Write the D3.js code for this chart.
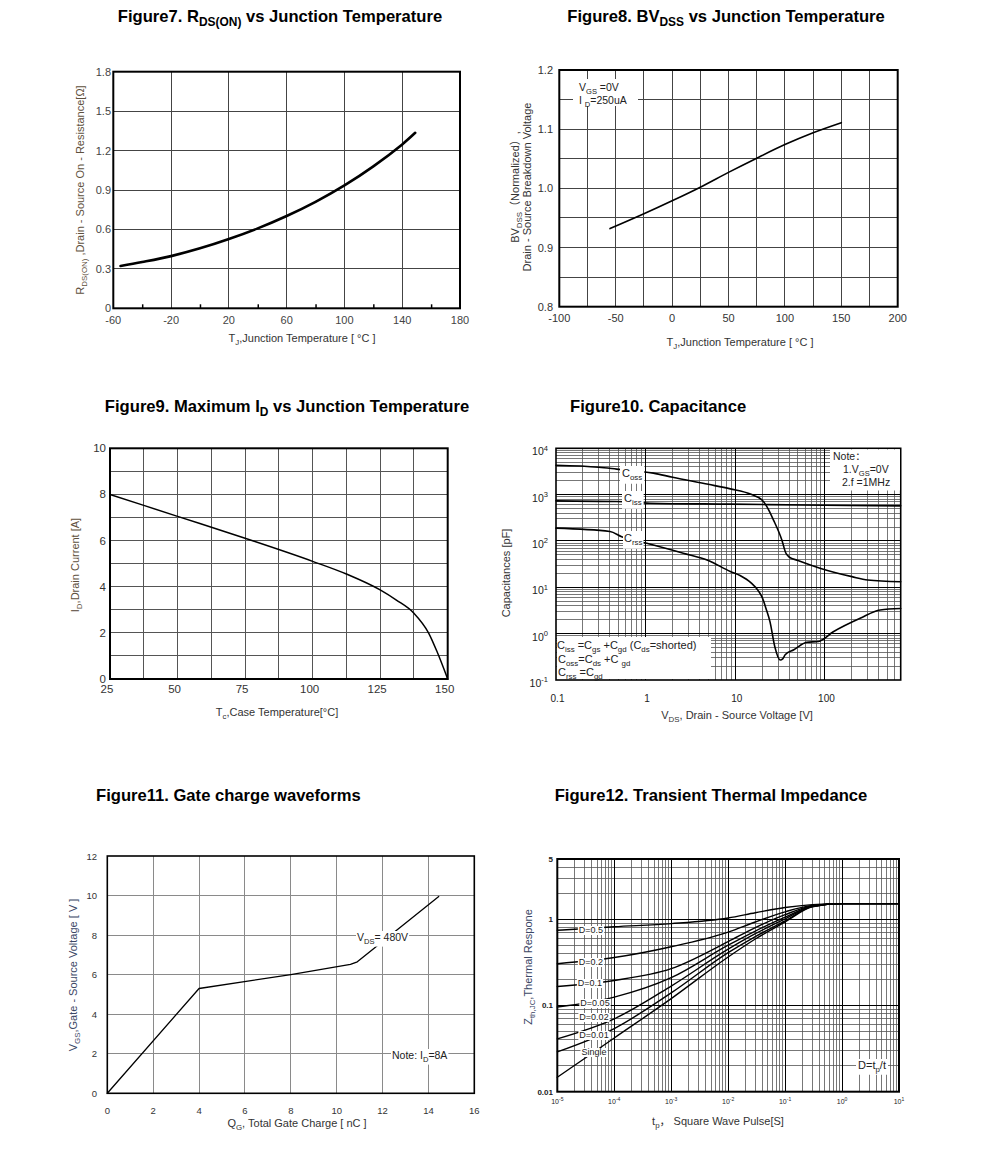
<!DOCTYPE html>
<html><head><meta charset="utf-8">
<script src="https://cdn.jsdelivr.net/npm/d3@7"></script>
<style>
body{margin:0;background:#fff}
svg{display:block}
text{font-family:"Liberation Sans",Arial,Helvetica,"Noto Sans CJK SC",sans-serif}
</style>
</head><body>
<svg id="c" width="991" height="1176"></svg>
<script>
// ---------------- DATA ----------------
// Figure 7
const fig7XTicks = [-60, -20, 20, 60, 100, 140, 180];
const fig7YTicks = [0, 0.3, 0.6, 0.9, 1.2, 1.5, 1.8];
const fig7YLabels = ['0', '0.3', '0.6', '0.9', '1.2', '1.5', '1.8'];
const fig7Temp = [-55, -40, -20, 0, 20, 40, 60, 80, 100, 120, 140, 149];
const fig7Rds = [0.322, 0.352, 0.397, 0.456, 0.527, 0.608, 0.702, 0.810, 0.935, 1.08, 1.247, 1.335];
// Figure 8
const fig8XTicks = [-100, -50, 0, 50, 100, 150, 200];
const fig8YTicks = [0.8, 0.9, 1.0, 1.1, 1.2];
const fig8Temp = [-55, -25, 0, 25, 50, 75, 100, 125, 150];
const fig8Bv = [0.932, 0.957, 0.979, 1.002, 1.027, 1.051, 1.074, 1.094, 1.111];
// Figure 9
const fig9XTicks = [25, 50, 75, 100, 125, 150];
const fig9YTicks = [0, 2, 4, 6, 8, 10];
const fig9Temp = [25, 50, 75, 100, 112.5, 125, 131, 137.5, 143, 146, 150];
const fig9Id = [8, 7.05, 6.1, 5.1, 4.55, 3.86, 3.42, 2.85, 1.98, 1.2, 0];
// Figure 10
const fig10XTicks = [0.1, 1, 10, 100];
const fig10XLabels = ['0.1', '1', '10', '100'];
const fig10YExp = [-1, 0, 1, 2, 3, 4];
const fig10CossV = [0.1, 0.3, 0.475, 1.22, 2, 5, 8.8, 15, 19.8, 22.5, 26.6, 33, 36.6, 40, 50, 88, 200, 300, 700];
const fig10CossC = [4300, 3900, 3556, 2911, 2370, 1670, 1333, 1015, 773, 553, 286, 106, 55, 45, 38, 25.9, 17, 14.4, 13.2];
const fig10CissV = [0.1, 0.475, 1.12, 8.8, 100, 700];
const fig10CissC = [735, 709, 654, 624, 590, 573];
const fig10CrssV = [0.1, 0.4, 0.54, 1.03, 2.63, 5, 8.8, 11.3, 15, 18, 20, 22, 24.4, 27.6, 31.6, 34, 36, 45, 62.8, 84.6, 124, 247, 413, 700];
const fig10CrssC = [189, 160, 124, 89.5, 54.6, 38, 22, 18, 12.5, 8.5, 6, 3.5, 1.8, 0.52, 0.27, 0.29, 0.35, 0.45, 0.65, 0.68, 1.1, 2.15, 3.25, 3.5];
// Figure 11
const fig11XTicks = [0, 2, 4, 6, 8, 10, 12, 14, 16];
const fig11YTicks = [0, 2, 4, 6, 8, 10, 12];
const fig11Qg = [0, 4, 8, 10.6, 10.9, 14.45];
const fig11Vgs = [0, 5.3, 6.0, 6.52, 6.65, 9.95];
// Figure 12
const fig12XExp = [-5, -4, -3, -2, -1, 0, 1];
const fig12YTicks = [0.01, 0.1, 1, 5];
const fig12YLabels = ['0.01', '0.1', '1', '5'];
const fig12Time = [1e-5, 1e-4, 1e-3, 1e-2, 3e-2, 0.1, 0.3, 1, 10];
const fig12D05 = [0.745, 0.82, 0.89, 1.035, 1.19, 1.37, 1.48, 1.52, 1.52];
const fig12D02 = [0.305, 0.36, 0.48, 0.71, 0.93, 1.22, 1.45, 1.52, 1.52];
const fig12D01 = [0.166, 0.195, 0.267, 0.55, 0.80, 1.13, 1.43, 1.52, 1.52];
const fig12D005 = [0.096, 0.125, 0.21, 0.50, 0.73, 1.06, 1.42, 1.52, 1.52];
const fig12D002 = [0.041, 0.070, 0.168, 0.45, 0.68, 1.01, 1.41, 1.52, 1.52];
const fig12D001 = [0.029, 0.054, 0.14, 0.41, 0.63, 0.96, 1.40, 1.52, 1.52];
const fig12Single = [0.0147, 0.042, 0.12, 0.365, 0.59, 0.93, 1.39, 1.52, 1.52];
const fig12Labels = ['D=0.5', 'D=0.2', 'D=0.1', 'D=0.05', 'D=0.02', 'D=0.01', 'Single'];

// ---------------- HELPERS ----------------
const svg = d3.select('#c');

function rich(t, parts, fs) {
  let cur = 0;
  parts.forEach(p => {
    const [s, k] = Array.isArray(p) ? p : [p, 'n'];
    const off = k === 'sub' ? fs * 0.25 : (k === 'sup' ? -fs * 0.45 : 0);
    t.append('tspan').attr('dy', (off - cur).toFixed(2))
      .attr('font-size', k === 'n' ? fs : (fs * 0.72).toFixed(2)).text(s);
    cur = off;
  });
  return t;
}
function addText(parent, x, y, parts, o = {}) {
  const fs = o.size || 11;
  const t = parent.append('text').attr('x', x).attr('y', y)
    .attr('text-anchor', o.anchor || 'start')
    .attr('font-size', fs).attr('fill', o.fill || '#000')
    .attr('font-weight', o.weight || 'normal');
  if (o.rotate) t.attr('transform', `rotate(-90 ${x} ${y})`);
  rich(t, typeof parts === 'string' ? [parts] : parts, fs);
  return t;
}
function bgText(parent, x, y, parts, o = {}) {
  const t = addText(parent, x, y, parts, o);
  const b = t.node().getBBox();
  const px = o.padX == null ? 1 : o.padX;
  const py = o.padY == null ? 0 : o.padY;
  parent.insert('rect', () => t.node())
    .attr('x', b.x - px).attr('y', b.y + 1 - py).attr('width', b.width + 2 * px).attr('height', b.height - 1 + 2 * py)
    .attr('fill', '#fff');
  return t;
}
function vgrid(g, x, y, vals, stroke, w) {
  g.append('g').selectAll('line').data(vals).join('line')
    .attr('x1', d => x(d)).attr('x2', d => x(d))
    .attr('y1', y.range()[0]).attr('y2', y.range()[1])
    .attr('stroke', stroke).attr('stroke-width', w).attr('shape-rendering', 'crispEdges');
}
function hgrid(g, x, y, vals, stroke, w) {
  g.append('g').selectAll('line').data(vals).join('line')
    .attr('y1', d => y(d)).attr('y2', d => y(d))
    .attr('x1', x.range()[0]).attr('x2', x.range()[1])
    .attr('stroke', stroke).attr('stroke-width', w).attr('shape-rendering', 'crispEdges');
}
function frame(g, x, y, w) {
  const [x0, x1] = x.range(), [y0, y1] = y.range();
  g.append('rect').attr('x', x0).attr('y', y1).attr('width', x1 - x0).attr('height', y0 - y1)
    .attr('fill', 'none').attr('stroke', '#000').attr('stroke-width', w);
}
function curve(g, x, y, xs, ys, w, c) {
  const pts = xs.map((v, i) => [v, ys[i]]);
  g.append('path').datum(pts)
    .attr('d', d3.line().x(d => x(d[0])).y(d => y(d[1])).curve(c || d3.curveMonotoneX))
    .attr('fill', 'none').attr('stroke', '#000').attr('stroke-width', w)
    .attr('stroke-linejoin', 'round').attr('stroke-linecap', 'round');
}
function title(x, y, parts, anchor) {
  addText(svg, x, y, parts, { size: 16.6, weight: 'bold', anchor: anchor || 'middle' });
}

// ---------------- FIGURE 7 ----------------
{
  const g = svg.append('g');
  const x = d3.scaleLinear([-60, 180], [113.3, 460]);
  const y = d3.scaleLinear([0, 1.8], [308.3, 71.7]);
  vgrid(g, x, y, fig7XTicks, '#444', 1);
  hgrid(g, x, y, fig7YTicks, '#444', 1);
  g.append('g').call(d3.axisTop(x).tickValues(d3.range(-40, 180, 40)).tickSize(4).tickFormat(''))
    .attr('transform', `translate(0,${y(0)})`).call(s => s.select('.domain').remove())
    .selectAll('line').attr('stroke', '#000').attr('stroke-width', 1.5);
  frame(g, x, y, 2);
  curve(g, x, y, fig7Temp, fig7Rds, 2.6, d3.curveCatmullRom);
  g.append('g').selectAll('text').data(fig7YTicks).join('text')
    .attr('x', 111).attr('y', d => y(d) + 4).attr('text-anchor', 'end')
    .attr('font-size', 11).attr('fill', '#444').text((d, i) => fig7YLabels[i]);
  g.append('g').selectAll('text').data(fig7XTicks).join('text')
    .attr('x', d => x(d)).attr('y', 324).attr('text-anchor', 'middle')
    .attr('font-size', 11).attr('fill', '#444').text(d => d);
  addText(g, 302, 342, ['T', ['J', 'sub'], ',Junction Temperature [ °C ]'], { size: 11, anchor: 'middle', fill: '#333' });
  addText(g, 84, 190, ['R', ['DS(ON)', 'sub'], ' ,Drain - Source On - Resistance[Ω]'], { size: 11, anchor: 'middle', fill: '#5e503c', rotate: true });
  title(280, 22, ['Figure7. R', ['DS(ON)', 'sub'], ' vs Junction Temperature']);
}

// ---------------- FIGURE 8 ----------------
{
  const g = svg.append('g');
  const x = d3.scaleLinear([-100, 200], [559.3, 897.7]);
  const y = d3.scaleLinear([0.8, 1.2], [306.7, 70]);
  vgrid(g, x, y, d3.range(-75, 200, 25), '#444', 1);
  hgrid(g, x, y, d3.range(0.85, 1.2, 0.05), '#444', 1);
  frame(g, x, y, 2);
  curve(g, x, y, fig8Temp, fig8Bv, 1.6, d3.curveCatmullRom);
  g.append('g').selectAll('text').data(fig8YTicks).join('text')
    .attr('x', 553).attr('y', d => y(d) + 4).attr('text-anchor', 'end')
    .attr('font-size', 11).attr('fill', '#333').text(d => d.toFixed(1));
  g.append('g').selectAll('text').data(fig8XTicks).join('text')
    .attr('x', d => x(d)).attr('y', 322).attr('text-anchor', 'middle')
    .attr('font-size', 11).attr('fill', '#333').text(d => d);
  addText(g, 740, 346, ['T', ['J', 'sub'], ',Junction Temperature [ °C ]'], { size: 11, anchor: 'middle', fill: '#333' });
  addText(g, 519, 187, ['BV', ['DSS', 'sub'], '（Normalized）,'], { size: 11, anchor: 'middle', fill: '#333', rotate: true });
  addText(g, 531, 187, 'Drain - Source Breakdown Voltage', { size: 11, anchor: 'middle', fill: '#333', rotate: true });
  g.append('rect').attr('x', 573).attr('y', 79).attr('width', 65).attr('height', 27).attr('fill', '#fff');
  addText(g, 579, 91, ['V', ['GS', 'sub'], ' =0V'], { size: 10.5, fill: '#222' });
  addText(g, 579, 104, ['I ', ['D', 'sub'], '=250uA'], { size: 10.5, fill: '#222' });
  title(726, 22, ['Figure8. BV', ['DSS', 'sub'], ' vs Junction Temperature']);
}

// ---------------- FIGURE 9 ----------------
{
  const g = svg.append('g');
  const x = d3.scaleLinear([25, 150], [110, 447.7]);
  const y = d3.scaleLinear([0, 10], [679, 448.3]);
  vgrid(g, x, y, d3.range(37.5, 150, 12.5), '#555', 1);
  hgrid(g, x, y, d3.range(1, 10, 1), '#555', 1);
  frame(g, x, y, 2);
  curve(g, x, y, fig9Temp, fig9Id, 1.5);
  g.append('g').selectAll('text').data(fig9YTicks).join('text')
    .attr('x', 106).attr('y', d => y(d) + 4).attr('text-anchor', 'end')
    .attr('font-size', 11.5).attr('fill', '#333').text(d => d);
  g.append('g').selectAll('text').data(fig9XTicks).join('text')
    .attr('x', d => x(d) - 3).attr('y', 693).attr('text-anchor', 'middle')
    .attr('font-size', 11.5).attr('fill', '#333').text(d => d);
  addText(g, 277, 716, ['T', ['c', 'sub'], ',Case Temperature[°C]'], { size: 11, anchor: 'middle', fill: '#333' });
  addText(g, 79, 565, ['I', ['D', 'sub'], ',Drain Current [A]'], { size: 11, anchor: 'middle', fill: '#5e503c', rotate: true });
  title(287, 412, ['Figure9. Maximum I', ['D', 'sub'], ' vs Junction Temperature']);
}

// ---------------- FIGURE 10 ----------------
{
  const g = svg.append('g');
  const x = d3.scaleLog([0.1, 700], [556, 900.7]);
  const y = d3.scaleLog([0.1, 10000], [680, 448.3]);
  const xt = x.ticks().filter(v => v > 0.1 * 1.0001 && v < 700 * 0.999);
  const yt = y.ticks().filter(v => v > 0.1 * 1.0001 && v < 10000 * 0.999);
  vgrid(g, x, y, xt, '#555', 0.8);
  hgrid(g, x, y, yt, '#555', 0.8);
  vgrid(g, x, y, fig10XTicks.slice(1), '#000', 1);
  hgrid(g, x, y, fig10YExp.slice(1, -1).map(e => Math.pow(10, e)), '#000', 1);
  frame(g, x, y, 1.6);
  curve(g, x, y, fig10CossV, fig10CossC, 1.6);
  curve(g, x, y, fig10CissV, fig10CissC, 1.6);
  curve(g, x, y, fig10CrssV, fig10CrssC, 1.6);
  bgText(g, 622, 477, ['C', ['oss', 'sub']], { size: 11, fill: '#222', padX: 2, padY: 2 });
  bgText(g, 624, 502, ['C', ['iss', 'sub']], { size: 11, fill: '#222', padX: 2, padY: 2 });
  bgText(g, 624, 542, ['C', ['rss', 'sub']], { size: 11, fill: '#222', padX: 1, padY: 2 });
  g.append('rect').attr('x', 830).attr('y', 449.5).attr('width', 70).attr('height', 41).attr('fill', '#fff');
  addText(g, 833, 460, 'Note：', { size: 10.5, fill: '#222' });
  addText(g, 843, 473, ['1.V', ['GS', 'sub'], '=0V'], { size: 10.5, fill: '#222' });
  addText(g, 842, 486, '2.f =1MHz', { size: 10.5, fill: '#222' });
  g.append('rect').attr('x', 557).attr('y', 637).attr('width', 154).attr('height', 42).attr('fill', '#fff');
  addText(g, 557, 649, ['C', ['iss', 'sub'], ' =C', ['gs', 'sub'], ' +C', ['gd', 'sub'], '  (C', ['ds', 'sub'], '=shorted)'], { size: 11, fill: '#222' });
  addText(g, 558, 663, ['C', ['oss', 'sub'], '=C', ['ds', 'sub'], ' +C ', ['gd', 'sub']], { size: 11, fill: '#222' });
  addText(g, 558, 676, ['C', ['rss', 'sub'], ' =C', ['gd', 'sub']], { size: 11, fill: '#222' });
  g.append('g').selectAll('text').data(fig10XTicks).join('text')
    .attr('x', d => x(d) + 1.5).attr('y', 701.5).attr('text-anchor', 'middle')
    .attr('font-size', 10).attr('fill', '#222').text((d, i) => fig10XLabels[i]);
  fig10YExp.forEach(e => {
    addText(g, 548, y(Math.pow(10, e)) + 7, ['10', [String(e), 'sup']], { size: 10.5, anchor: 'end', fill: '#222' });
  });
  addText(g, 737, 719, ['V', ['DS', 'sub'], ', Drain - Source Voltage [V]'], { size: 11, anchor: 'middle', fill: '#333' });
  addText(g, 510, 573, 'Capacitances [pF]', { size: 11, anchor: 'middle', fill: '#333', rotate: true });
  title(570, 412, 'Figure10. Capacitance', 'start');
}

// ---------------- FIGURE 11 ----------------
{
  const g = svg.append('g');
  const x = d3.scaleLinear([0, 16], [107.3, 474.3]);
  const y = d3.scaleLinear([0, 12], [1093.3, 856]);
  vgrid(g, x, y, fig11XTicks.slice(1, -1), '#8a8a8a', 1);
  hgrid(g, x, y, fig11YTicks.slice(1, -1), '#8a8a8a', 1);
  frame(g, x, y, 1.6);
  curve(g, x, y, fig11Qg, fig11Vgs, 1.3, d3.curveLinear);
  bgText(g, 357, 941, ['V', ['DS', 'sub'], '= 480V'], { size: 10.5, fill: '#222', padX: 1, padY: 1 });
  bgText(g, 392, 1059, ['Note: I', ['D', 'sub'], '=8A'], { size: 10.5, fill: '#222', padX: 1, padY: 1 });
  g.append('g').selectAll('text').data(fig11YTicks).join('text')
    .attr('x', 97).attr('y', d => y(d) + 3.5).attr('text-anchor', 'end')
    .attr('font-size', 9.5).attr('fill', '#333').text(d => d);
  g.append('g').selectAll('text').data(fig11XTicks).join('text')
    .attr('x', d => x(d)).attr('y', 1114).attr('text-anchor', 'middle')
    .attr('font-size', 9.5).attr('fill', '#333').text(d => d);
  addText(g, 297, 1127, ['Q', ['G', 'sub'], ', Total Gate Charge [ nC ]'], { size: 11, anchor: 'middle', fill: '#333' });
  addText(g, 77, 975, ['V', ['GS', 'sub'], ',Gate - Source Voltage [ V ]'], { size: 11, anchor: 'middle', fill: '#3b4766', rotate: true });
  title(96, 801, 'Figure11. Gate charge waveforms', 'start');
}

// ---------------- FIGURE 12 ----------------
{
  const g = svg.append('g');
  const x = d3.scaleLog([1e-5, 10], [557.3, 899]);
  const y = d3.scaleLog([0.01, 5], [1091.7, 859]);
  const xt = x.ticks().filter(v => v > 1e-5 * 1.0001 && v < 10 * 0.999);
  const yt = y.ticks().filter(v => v > 0.01 * 1.0001 && v < 5 * 0.999);
  vgrid(g, x, y, xt, '#555', 0.8);
  hgrid(g, x, y, yt, '#555', 0.8);
  vgrid(g, x, y, fig12XExp.slice(1, -1).map(e => Math.pow(10, e)), '#000', 1);
  hgrid(g, x, y, [0.1, 1], '#000', 1);
  frame(g, x, y, 2);
  [fig12D05, fig12D02, fig12D01, fig12D005, fig12D002, fig12D001, fig12Single].forEach(s => curve(g, x, y, fig12Time, s, 1.4));
  const labY = [930, 962, 983, 1003, 1017, 1035, 1052];
  const labX = [591, 591, 590, 595, 594, 594, 594];
  fig12Labels.forEach((l, i) => bgText(g, labX[i], labY[i] + 3, l, { size: 9, anchor: 'middle', fill: '#222', padX: 1 }));
  bgText(g, 872, 1069, ['D=t', ['p', 'sub'], '/t'], { size: 11, anchor: 'middle', fill: '#222', padX: 2, padY: 1 });
  g.append('g').selectAll('text').data(fig12YTicks).join('text')
    .attr('x', 553).attr('y', d => y(d) + 3).attr('text-anchor', 'end')
    .attr('font-size', 8).attr('font-weight', 'bold').attr('fill', '#222').text((d, i) => fig12YLabels[i]);
  fig12XExp.forEach(e => {
    addText(g, x(Math.pow(10, e)), 1104, ['10', [String(e), 'sup']], { size: 7, anchor: 'middle', fill: '#222' });
  });
  addText(g, 718, 1125, ['t', ['p', 'sub'], '，  Square Wave Pulse[S]'], { size: 11, anchor: 'middle', fill: '#333' });
  addText(g, 532, 967, ['Z', ['th,JC', 'sub'], ',Thermal Respone'], { size: 11, anchor: 'middle', fill: '#3b4766', rotate: true });
  title(711, 801, 'Figure12. Transient Thermal Impedance');
}
</script>
</body></html>
